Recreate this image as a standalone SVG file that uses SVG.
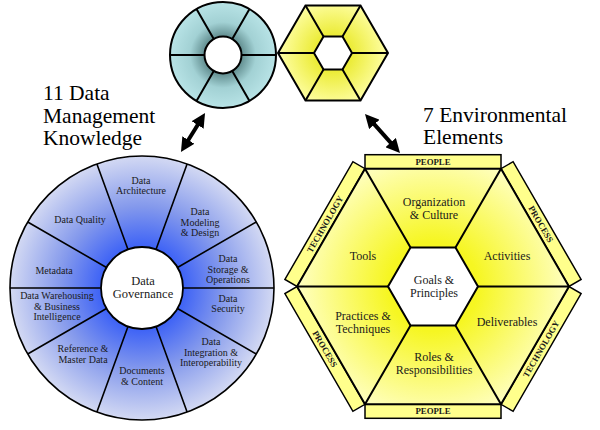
<svg xmlns="http://www.w3.org/2000/svg" width="600" height="430" viewBox="0 0 600 430">
<style>
text{font-family:'Liberation Serif',serif;fill:#1a1a1a;text-anchor:middle}
.title{font-size:21.5px;text-anchor:start;fill:#000}
.lbl{font-size:10px}
.big{font-size:12.5px}
.hl{font-size:12px}
.band{font-size:8.8px;font-weight:bold}
.ln{stroke:#000;stroke-width:1.6;fill:none}
.icon{stroke:#000;stroke-width:2}
.bandshape{fill:#ffff8c;stroke:#000;stroke-width:1.5}
.arrow{stroke:#000;stroke-width:4;fill:none;marker-start:url(#ah);marker-end:url(#ah)}
</style>
<defs>
<radialGradient id="gCyan" gradientUnits="userSpaceOnUse" cx="223" cy="55" r="53">
<stop offset="0.34" stop-color="#5f8b8d"/><stop offset="0.62" stop-color="#a2d1d4"/><stop offset="1" stop-color="#b8e3e6"/>
</radialGradient>
<radialGradient id="gYelSmall" gradientUnits="userSpaceOnUse" cx="333" cy="53" r="55">
<stop offset="0.35" stop-color="#ecec3a"/><stop offset="1" stop-color="#ffffa8"/>
</radialGradient>
<radialGradient id="gBlue" gradientUnits="userSpaceOnUse" cx="142" cy="288" r="132">
<stop offset="0.31" stop-color="#3d62f6"/><stop offset="0.62" stop-color="#8499ec"/><stop offset="1" stop-color="#d3d9f3"/>
</radialGradient>
<radialGradient id="gYel" gradientUnits="userSpaceOnUse" cx="433" cy="286.5" r="136">
<stop offset="0.33" stop-color="#f6f622"/><stop offset="1" stop-color="#ffffc2"/>
</radialGradient>
<marker id="ah" viewBox="0 0 14 14" markerWidth="14" markerHeight="14" refX="5" refY="7" orient="auto-start-reverse" markerUnits="userSpaceOnUse">
<path d="M0,0 L14,7 L0,14 z" fill="#000"/>
</marker>
</defs>
<rect width="600" height="430" fill="#fff"/>

<g id="icon-wheel">
<circle cx="223" cy="55" r="53" fill="url(#gCyan)" class="icon"/>
<path class="icon" fill="none" d="M241.5,55 L276,55 M204.5,55 L170,55 M232.25,39 L249.5,9.1 M213.75,39 L196.5,9.1 M213.75,71 L196.5,100.9 M232.25,71 L249.5,100.9"/>
<circle cx="223" cy="55" r="18.5" fill="#fff" class="icon"/>
</g>

<g id="icon-hex">
<polygon points="388,53 360.5,5.4 305.5,5.4 278,53 305.5,100.6 360.5,100.6" fill="url(#gYelSmall)" class="icon"/>
<path class="icon" fill="none" d="M388,53 L352,53 M360.5,5.4 L342.5,36.5 M305.5,5.4 L323.5,36.5 M278,53 L314,53 M305.5,100.6 L323.5,69.5 M360.5,100.6 L342.5,69.5"/>
<polygon points="352,53 342.5,36.5 323.5,36.5 314,53 323.5,69.5 342.5,69.5" fill="#fff" class="icon"/>
</g>

<g id="title-dmk">
<text class="title" x="43" y="100">11 Data</text>
<text class="title" x="43" y="122.5">Management</text>
<text class="title" x="43" y="145">Knowledge</text>
</g>
<g id="title-env">
<text class="title" x="423" y="122">7 Environmental</text>
<text class="title" x="423" y="144">Elements</text>
</g>

<g id="connectors">
<path class="arrow" d="M200.3,120.7 L185.7,144.3"/>
<path class="arrow" d="M371,120.7 L394,146.3"/>
</g>

<g id="wheel">
<circle cx="142" cy="288" r="132" fill="url(#gBlue)" stroke="#000" stroke-width="1.6"/>
<path class="ln" d="M183,288 L274,288 M101,288 L10,288 M177.5,267.5 L256.3,222 M106.5,267.5 L27.7,222 M156,249.5 L187.1,164 M128,249.5 L96.9,164 M177.5,308.5 L256.3,354 M106.5,308.5 L27.7,354 M156,326.5 L187.1,412 M128,326.5 L96.9,412"/>
<g id="data-governance">
<circle cx="142" cy="288" r="41" fill="#fff" stroke="#000" stroke-width="1.8"/>
<text class="big" x="143" y="285">Data</text>
<text class="big" x="143" y="298">Governance</text>
</g>
<g id="data-architecture"><text class="lbl" x="141" y="183.5">Data</text><text class="lbl" x="141" y="194">Architecture</text></g>
<g id="data-modeling"><text class="lbl" x="200" y="215">Data</text><text class="lbl" x="200" y="225.7">Modeling</text><text class="lbl" x="200" y="236.4">&amp; Design</text></g>
<g id="data-storage"><text class="lbl" x="228" y="262">Data</text><text class="lbl" x="228" y="272.7">Storage &amp;</text><text class="lbl" x="228" y="283.4">Operations</text></g>
<g id="data-security"><text class="lbl" x="228" y="301.5">Data</text><text class="lbl" x="228" y="312.2">Security</text></g>
<g id="data-integration"><text class="lbl" x="211" y="345">Data</text><text class="lbl" x="211" y="355.7">Integration &amp;</text><text class="lbl" x="211" y="366.4">Interoperability</text></g>
<g id="documents-content"><text class="lbl" x="142" y="374">Documents</text><text class="lbl" x="142" y="384.7">&amp; Content</text></g>
<g id="reference-master"><text class="lbl" x="83" y="352">Reference &amp;</text><text class="lbl" x="83" y="362.7">Master Data</text></g>
<g id="data-warehousing"><text class="lbl" x="57" y="299">Data Warehousing</text><text class="lbl" x="57" y="309.7">&amp; Business</text><text class="lbl" x="57" y="320.4">Intelligence</text></g>
<g id="metadata"><text class="lbl" x="54" y="273.5">Metadata</text></g>
<g id="data-quality"><text class="lbl" x="80" y="222.5">Data Quality</text></g>
</g>

<g id="hexagon">
<g id="bands">
<rect class="bandshape" x="365" y="154.7" width="136" height="14"/>
<rect class="bandshape" x="365" y="404.3" width="136" height="14"/>
<polygon class="bandshape" points="365,168.7 297,286.5 284.9,279.5 352.9,161.7"/>
<polygon class="bandshape" points="501,168.7 569,286.5 581.1,279.5 513.1,161.7"/>
<polygon class="bandshape" points="297,286.5 365,404.3 352.9,411.3 284.9,293.5"/>
<polygon class="bandshape" points="569,286.5 501,404.3 513.1,411.3 581.1,293.5"/>
<text class="band" x="433" y="164.8">PEOPLE</text>
<text class="band" x="433" y="414.4">PEOPLE</text>
<text class="band" transform="translate(325,224.1) rotate(-60)" x="0" y="3.1">TECHNOLOGY</text>
<text class="band" transform="translate(541,224.1) rotate(60)" x="0" y="3.1">PROCESS</text>
<text class="band" transform="translate(325,348.9) rotate(60)" x="0" y="3.1">PROCESS</text>
<text class="band" transform="translate(541,348.9) rotate(-60)" x="0" y="3.1">TECHNOLOGY</text>
</g>
<polygon points="569,286.5 501,168.7 365,168.7 297,286.5 365,404.3 501,404.3" fill="url(#gYel)" stroke="#000" stroke-width="2"/>
<path stroke="#000" stroke-width="2" fill="none" d="M569,286.5 L478,286.5 M501,168.7 L455.5,247.5 M365,168.7 L410.5,247.5 M297,286.5 L388,286.5 M365,404.3 L410.5,325.5 M501,404.3 L455.5,325.5"/>
<g id="goals-principles">
<polygon points="478,286.5 455.5,247.5 410.5,247.5 388,286.5 410.5,325.5 455.5,325.5" fill="#fff" stroke="#000" stroke-width="2"/>
<text class="hl" x="434" y="284">Goals &amp;</text>
<text class="hl" x="434" y="297">Principles</text>
</g>
<g id="organization-culture"><text class="hl" x="434" y="206">Organization</text><text class="hl" x="434" y="218.5">&amp; Culture</text></g>
<g id="tools"><text class="hl" x="363" y="260">Tools</text></g>
<g id="activities"><text class="hl" x="507" y="260">Activities</text></g>
<g id="practices-techniques"><text class="hl" x="363" y="320">Practices &amp;</text><text class="hl" x="363" y="332.5">Techniques</text></g>
<g id="deliverables"><text class="hl" x="507" y="326">Deliverables</text></g>
<g id="roles-responsibilities"><text class="hl" x="434" y="361">Roles &amp;</text><text class="hl" x="434" y="373.5">Responsibilities</text></g>
</g>
</svg>
